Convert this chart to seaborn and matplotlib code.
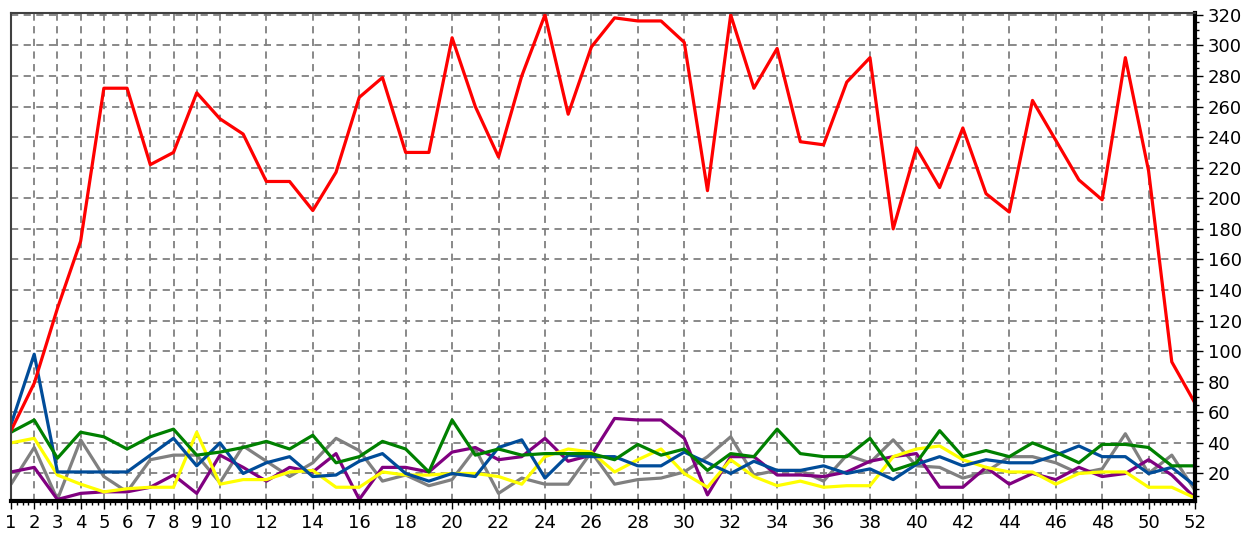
import numpy as np
import pandas as pd
import matplotlib
matplotlib.use('Agg')
import matplotlib.pyplot as plt
from matplotlib.ticker import MultipleLocator, FixedLocator
import seaborn as sns

# Dados (semanas 1..52)
weeks = list(range(1, 53))

red = [48, 79, 128, 172, 272, 272, 222, 230, 269, 252, 242, 211, 211, 192, 217, 266, 279, 230, 230, 305,
       260, 227, 280, 320, 255, 299, 318, 316, 316, 302, 205, 320, 272, 298, 237, 235, 276, 292, 180, 233,
       207, 246, 203, 191, 264, 238, 212, 199, 292, 218, 93, 66]
blue = [52, 98, 21, 21, 21, 21, 32, 43, 25, 40, 20, 27, 31, 18, 19, 28, 33, 20, 15, 20,
        18, 37, 42, 17, 32, 31, 31, 25, 25, 34, 27, 20, 28, 22, 22, 25, 20, 23, 16, 26,
        31, 25, 29, 27, 27, 32, 38, 31, 31, 20, 24, 12]
green = [47, 55, 30, 47, 44, 36, 44, 49, 32, 34, 37, 41, 36, 45, 27, 31, 41, 36, 21, 55,
         32, 36, 32, 33, 33, 33, 29, 39, 32, 36, 22, 33, 31, 49, 33, 31, 31, 43, 22, 27,
         48, 31, 35, 31, 40, 34, 27, 39, 39, 37, 25, 25]
yellow = [40, 43, 19, 13, 8, 10, 11, 11, 47, 13, 16, 16, 21, 22, 11, 11, 21, 19, 19, 20,
          20, 18, 13, 31, 36, 34, 21, 29, 36, 20, 11, 29, 18, 12, 15, 11, 12, 12, 31, 36,
          38, 29, 24, 21, 21, 13, 20, 21, 21, 11, 11, 4]
gray = [13, 37, 3, 42, 18, 8, 29, 32, 32, 14, 38, 28, 18, 27, 43, 35, 15, 19, 12, 16,
        36, 7, 17, 13, 13, 34, 13, 16, 17, 21, 31, 44, 19, 22, 22, 15, 32, 27, 42, 25,
        24, 17, 21, 31, 31, 27, 20, 23, 46, 20, 32, 9]
purple = [21, 24, 3, 7, 8, 8, 11, 19, 7, 32, 24, 15, 24, 21, 33, 3, 24, 24, 21, 34,
          37, 29, 31, 43, 28, 32, 56, 55, 55, 43, 6, 31, 31, 19, 19, 18, 21, 28, 31, 33,
          11, 11, 24, 13, 20, 16, 24, 18, 20, 29, 19, 4]

series_names = ["gray", "purple", "yellow", "blue", "green", "red"]
series_values = [gray, purple, yellow, blue, green, red]
colors = {"gray": "#808080", "purple": "#800080", "yellow": "#FFFF00",
          "blue": "#004C99", "green": "#008000", "red": "#FF0000"}

x_labels = list(range(1, 11)) + list(range(12, 53, 2))
y_labels = list(range(20, 321, 20))

df = pd.DataFrame({
    "week": weeks * len(series_names),
    "value": [v for vals in series_values for v in vals],
    "serie": [n for n in series_names for _ in weeks],
})

sns.set_style("white")
plt.rcParams['font.family'] = ['DejaVu Sans']

fig = plt.figure(figsize=(12.52, 5.4), dpi=100)
ax = fig.add_axes([11 / 1252, 39 / 540, (1195 - 11) / 1252, (501 - 13) / 540])

sns.lineplot(data=df, x="week", y="value", hue="serie", hue_order=series_names,
             palette=colors, linewidth=2.3, legend=False, ax=ax, sort=False)

ax.set_xlim(1, 52)
ax.set_ylim(2, 321.2)

ax.xaxis.set_major_locator(FixedLocator(x_labels))
ax.set_xticklabels([str(v) for v in x_labels])
ax.xaxis.set_minor_locator(MultipleLocator(0.25))
ax.yaxis.set_major_locator(FixedLocator(y_labels))
ax.yaxis.set_minor_locator(MultipleLocator(5))
ax.yaxis.tick_right()
ax.yaxis.set_label_position("right")

ax.tick_params(axis="both", which="major", direction="out", length=6, width=1,
               color="black", labelsize=13, labelcolor="black", pad=3)
ax.tick_params(axis="both", which="minor", direction="out", length=3, width=1, color="black")
ax.tick_params(axis="y", which="both", left=False, right=True)
ax.tick_params(axis="x", which="both", bottom=True, top=False)

ax.grid(True, which="major", color="#808080", linestyle=(0, (4, 3)), linewidth=1.3)
ax.set_axisbelow(True)

ax.set_xlabel("")
ax.set_ylabel("")

ax.spines["bottom"].set_linewidth(3)
ax.spines["bottom"].set_color("black")
ax.spines["right"].set_linewidth(3)
ax.spines["right"].set_color("black")
ax.spines["top"].set_linewidth(1.5)
ax.spines["top"].set_color("#404040")
ax.spines["left"].set_linewidth(1.5)
ax.spines["left"].set_color("#404040")

fig.savefig("out.png", dpi=100)
plt.close(fig)
